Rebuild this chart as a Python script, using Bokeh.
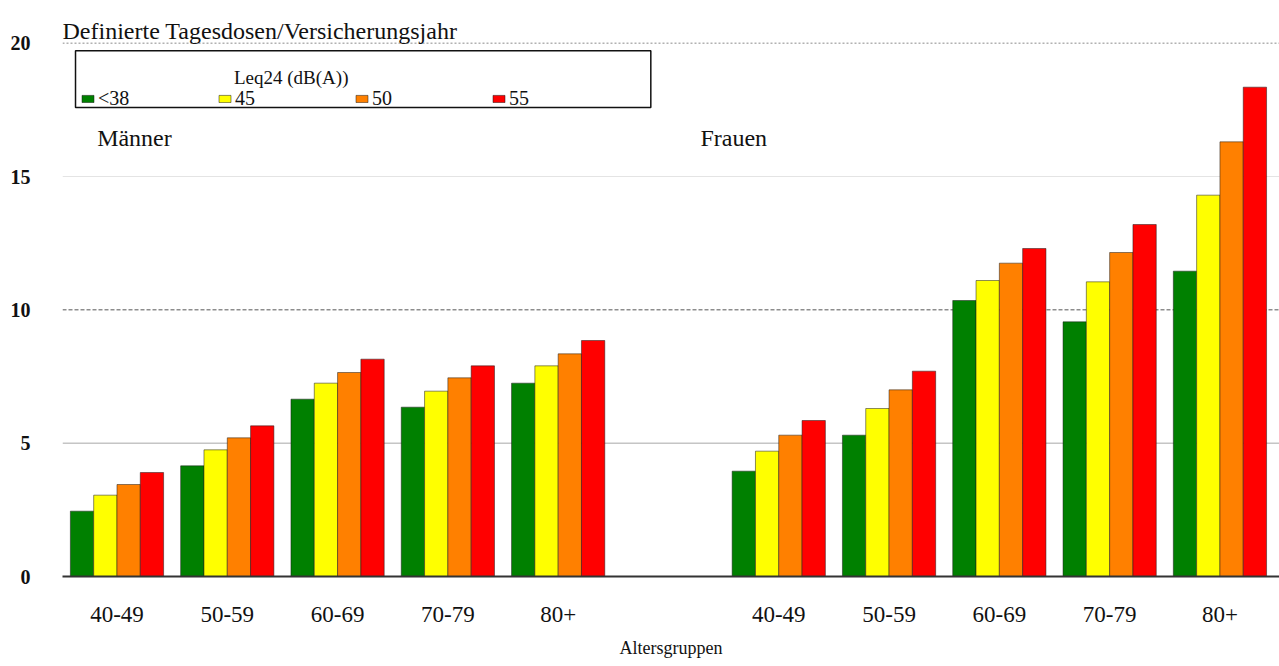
from bokeh.plotting import figure
from bokeh.models import (ColumnDataSource, Range1d, FixedTicker, Label, Span,
                          BoxAnnotation, Legend, LegendItem)
from bokeh.transform import dodge
from bokeh.embed import file_html
from bokeh.resources import INLINE

# ---------------- data ----------------
age_groups = ["40-49", "50-59", "60-69", "70-79", "80+"]
sexes = ["Männer", "Frauen"]
levels = ["<38", "45", "50", "55"]
colors = ["#008000", "#ffff00", "#ff8000", "#ff0000"]

maenner_lt38 = [2.45, 4.15, 6.65, 6.35, 7.25]
maenner_45 = [3.05, 4.75, 7.25, 6.95, 7.90]
maenner_50 = [3.45, 5.20, 7.65, 7.45, 8.35]
maenner_55 = [3.90, 5.65, 8.15, 7.90, 8.85]

frauen_lt38 = [3.95, 5.30, 10.35, 9.55, 11.45]
frauen_45 = [4.70, 6.30, 11.10, 11.05, 14.30]
frauen_50 = [5.30, 7.00, 11.75, 12.15, 16.30]
frauen_55 = [5.85, 7.70, 12.30, 13.20, 18.35]

y_ticks = [0, 5, 10, 15, 20]

title_text = "Definierte Tagesdosen/Versicherungsjahr"
legend_title = "Leq24 (dB(A))"
x_label = "Altersgruppen"

FONT = "Liberation Serif"

# slot positions: Männer 0..4, an empty slot, Frauen 6..10
n = len(age_groups)
pos_m = list(range(n))
pos_f = [i + n + 1 for i in range(n)]

series_m = [maenner_lt38, maenner_45, maenner_50, maenner_55]
series_f = [frauen_lt38, frauen_45, frauen_50, frauen_55]

data = {"pos": pos_m + pos_f}
for j in range(len(levels)):
    data[f"v{j}"] = series_m[j] + series_f[j]
source = ColumnDataSource(data)

# ---------------- figure ----------------
x_range = Range1d(-0.494, 2 * n + 0.54)
y_range = Range1d(0, 21.3)

p = figure(width=1279, height=664, x_range=x_range, y_range=y_range,
           output_backend="svg", toolbar_location=None,
           min_border_left=62, min_border_right=0, min_border_top=8,
           min_border_bottom=88)
p.outline_line_color = None
p.background_fill_color = "white"
p.xgrid.grid_line_color = None
p.ygrid.grid_line_color = None

# grid lines
grid_styles = {5: ("#a8a8a8", None), 10: ("#555555", "4 2"),
               15: ("#e4e4e4", None), 20: ("#8a8a8a", "2 2")}
for t in y_ticks[1:]:
    col, dash = grid_styles[t]
    sp = Span(location=t, dimension="width", line_color=col, line_width=1,
              level="underlay")
    if dash:
        sp.line_dash = dash
    p.add_layout(sp)

# bars
bw = 0.2113
renderers = []
for j, lv in enumerate(levels):
    r = p.vbar(x=dodge("pos", (j - 1.5) * bw, range=p.x_range), top=f"v{j}",
               width=bw, source=source, fill_color=colors[j],
               line_color="#1a1a1a", line_width=1, line_alpha=0.5)
    renderers.append(r)

# axes
p.xaxis.ticker = FixedTicker(ticks=pos_m + pos_f)
p.xaxis.major_label_overrides = {pp: age_groups[i % n] for i, pp in enumerate(pos_m + pos_f)}
p.xaxis.axis_line_color = "#333333"
p.xaxis.axis_line_width = 2
p.xaxis.major_tick_line_color = None
p.xaxis.minor_tick_line_color = None
p.xaxis.major_label_standoff = 24
p.xaxis.major_label_text_font = FONT
p.xaxis.major_label_text_font_size = "23px"
p.xaxis.major_label_text_color = "#111111"
p.xaxis.axis_label = x_label
p.xaxis.axis_label_text_font = FONT
p.xaxis.axis_label_text_font_style = "normal"
p.xaxis.axis_label_text_font_size = "18px"
p.xaxis.axis_label_standoff = 13
p.xaxis.axis_label_text_color = "#111111"

p.yaxis.ticker = FixedTicker(ticks=y_ticks)
p.yaxis.axis_line_color = None
p.yaxis.major_tick_line_color = None
p.yaxis.minor_tick_line_color = None
p.yaxis.major_label_standoff = 26
p.yaxis.major_label_text_font = FONT
p.yaxis.major_label_text_font_size = "20px"
p.yaxis.major_label_text_font_style = "bold"
p.yaxis.major_label_text_color = "#111111"

# title inside the frame, above the 20 line
p.add_layout(Label(x=x_range.start, y=20.45, text=title_text, text_font=FONT,
                   text_font_size="24px", text_align="left",
                   text_baseline="alphabetic", text_color="#111111"))

# legend frame
p.add_layout(BoxAnnotation(left=-0.376, right=4.84, top=19.72, bottom=17.59,
                           fill_alpha=0, line_color="#111111", line_alpha=1,
                           line_width=1.5))
p.add_layout(Label(x=1.58, y=18.72, text=legend_title, text_font=FONT,
                   text_font_size="19px", text_align="center",
                   text_baseline="middle", text_color="#111111"))

legend = Legend(items=[LegendItem(label=lv, renderers=[r])
                       for lv, r in zip(levels, renderers)],
                orientation="horizontal", location=(18, 466),
                glyph_width=15, glyph_height=9, label_standoff=3,
                label_width=119, spacing=0, padding=0, margin=0,
                border_line_color=None, background_fill_alpha=0,
                label_text_font=FONT, label_text_font_size="20px",
                label_text_color="#111111")
p.add_layout(legend)

# group labels
group_x = [-0.18, 5.29]
for sx, name in zip(group_x, sexes):
    p.add_layout(Label(x=sx, y=16.45, text=name, text_font=FONT,
                       text_font_size="24px", text_align="left",
                       text_baseline="middle", text_color="#111111"))

open("out.html", "w").write(file_html(p, INLINE))
